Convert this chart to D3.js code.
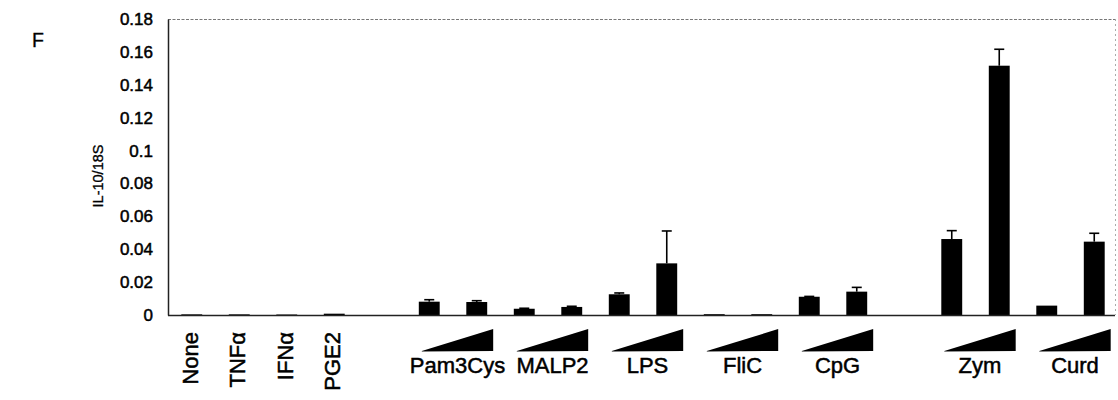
<!DOCTYPE html>
<html>
<head>
<meta charset="utf-8">
<script src="https://cdn.jsdelivr.net/npm/d3@7"></script>
<style>
  html, body { margin: 0; padding: 0; background: #fff; }
  svg { display: block; font-family: "Liberation Sans", Arial, sans-serif; }
</style>
</head>
<body>
<svg id="chart" width="1118" height="400"></svg>
<script>
// single stimuli (no dose range)
const singles = ["None", "TNFα", "IFNα", "PGE2"];
const singleVals = [0.0004, 0.0004, 0.0003, 0.0008];

// dose-range stimuli: low dose / high dose
const groups = ["Pam3Cys", "MALP2", "LPS", "FliC", "CpG", "Zym", "Curd"];
const lowVals = [0.0081, 0.0038, 0.0126, 0.0005, 0.0111, 0.0462, 0.0057];
const lowErr = [0.0012, 0.0003, 0.0008, 0, 0.0002, 0.0051, 0];
const highVals = [0.0079, 0.0049, 0.0314, 0.0005, 0.0142, 0.1516, 0.0446];
const highErr = [0.0008, 0.0004, 0.0197, 0, 0.0026, 0.0100, 0.0051];

// empty slots on the x axis (before Pam3Cys, before Zym)
const gapBefore = ["Pam3Cys", "Zym"];

const yTicks = [0, 0.02, 0.04, 0.06, 0.08, 0.1, 0.12, 0.14, 0.16, 0.18];

(function () {
  const svg = d3.select("#chart");

  const left = 168, right = 1115, top = 19, bottom = 315;

  // build slot list: singles, gaps, then lo/hi pairs
  const slots = [];
  const bars = [];
  singles.forEach((s, i) => {
    slots.push(s);
    bars.push({ key: s, v: singleVals[i], e: 0 });
  });
  groups.forEach((g, i) => {
    if (gapBefore.includes(g)) slots.push("gap-" + g);
    slots.push(g + "-lo", g + "-hi");
    bars.push({ key: g + "-lo", v: lowVals[i], e: lowErr[i] });
    bars.push({ key: g + "-hi", v: highVals[i], e: highErr[i] });
  });

  const x = d3.scaleBand()
    .domain(slots)
    .range([left, left + slots.length * 47.5])
    .paddingInner(0.56)
    .paddingOuter(0.28);

  const y = d3.scaleLinear().domain([0, 0.18]).range([bottom, top]);

  // frame: dotted top and right edges
  svg.append("line")
    .attr("x1", left).attr("x2", right).attr("y1", top + 0.5).attr("y2", top + 0.5)
    .attr("stroke", "#777").attr("stroke-width", 1).attr("stroke-dasharray", "3,1.5");
  svg.append("line")
    .attr("x1", right + 0.5).attr("x2", right + 0.5).attr("y1", top).attr("y2", bottom)
    .attr("stroke", "#aaa").attr("stroke-width", 1).attr("stroke-dasharray", "2,3");

  // y axis (no tick marks, only labels)
  const yAxis = d3.axisLeft(y)
    .tickValues(yTicks)
    .tickSize(0)
    .tickPadding(15)
    .tickFormat(d => String(+d.toFixed(2)));
  const ga = svg.append("g")
    .attr("transform", `translate(${left},0)`)
    .call(yAxis);
  ga.select(".domain").attr("stroke", "#222").attr("stroke-width", 1.5);
  ga.selectAll("text")
    .attr("font-size", 17)
    .attr("font-family", "Liberation Sans, Arial, sans-serif")
    .attr("fill", "#000")
    .attr("stroke", "#000").attr("stroke-width", 0.5);

  // bars
  const bw = x.bandwidth();
  svg.append("g")
    .selectAll("rect")
    .data(bars)
    .join("rect")
    .attr("x", d => x(d.key))
    .attr("y", d => y(d.v))
    .attr("width", bw)
    .attr("height", d => y(0) - y(d.v))
    .attr("fill", "#000");

  // error bars, upper whisker only
  const eb = svg.append("g").attr("stroke", "#000").attr("stroke-width", 1.6);
  bars.filter(d => d.e > 0).forEach(d => {
    const cx = x(d.key) + bw / 2;
    eb.append("line").attr("x1", cx).attr("x2", cx).attr("y1", y(d.v)).attr("y2", y(d.v + d.e));
    eb.append("line").attr("x1", cx - 5).attr("x2", cx + 5).attr("y1", y(d.v + d.e)).attr("y2", y(d.v + d.e));
  });

  // baseline
  svg.append("line")
    .attr("x1", left).attr("x2", right).attr("y1", bottom + 0.5).attr("y2", bottom + 0.5)
    .attr("stroke", "#222").attr("stroke-width", 1.5);

  // rotated labels for single stimuli
  svg.append("g")
    .selectAll("text")
    .data(singles)
    .join("text")
    .attr("transform", d => `translate(${x(d) + bw / 2 + 6},332) rotate(-90)`)
    .attr("text-anchor", "end")
    .attr("font-size", 22)
    .attr("stroke", "#000").attr("stroke-width", 0.5)
    .text(d => d);

  // dose wedges + group labels
  const wg = svg.append("g");
  groups.forEach(g => {
    const x0 = x(g + "-lo") + 3;
    const x1 = x(g + "-hi") + bw + 6;
    wg.append("polygon")
      .attr("points", [[x0, 351], [x1, 329], [x1, 351], [x0, 351.5]].map(p => p.join(",")).join(" "))
      .attr("fill", "#000");
    wg.append("text")
      .attr("x", (x0 + x1) / 2)
      .attr("y", 373)
      .attr("text-anchor", "middle")
      .attr("font-size", 22)
      .attr("stroke", "#000").attr("stroke-width", 0.5)
      .text(g);
  });

  // y axis title
  svg.append("text")
    .attr("transform", "translate(103,176) rotate(-90)")
    .attr("text-anchor", "middle")
    .attr("font-size", 14.5)
    .attr("stroke", "#000").attr("stroke-width", 0.3)
    .text("IL-10/18S");

  // panel letter
  svg.append("text")
    .attr("x", 32).attr("y", 47)
    .attr("font-size", 19.5)
    .attr("stroke", "#000").attr("stroke-width", 0.3)
    .text("F");
})();
</script>
</body>
</html>
